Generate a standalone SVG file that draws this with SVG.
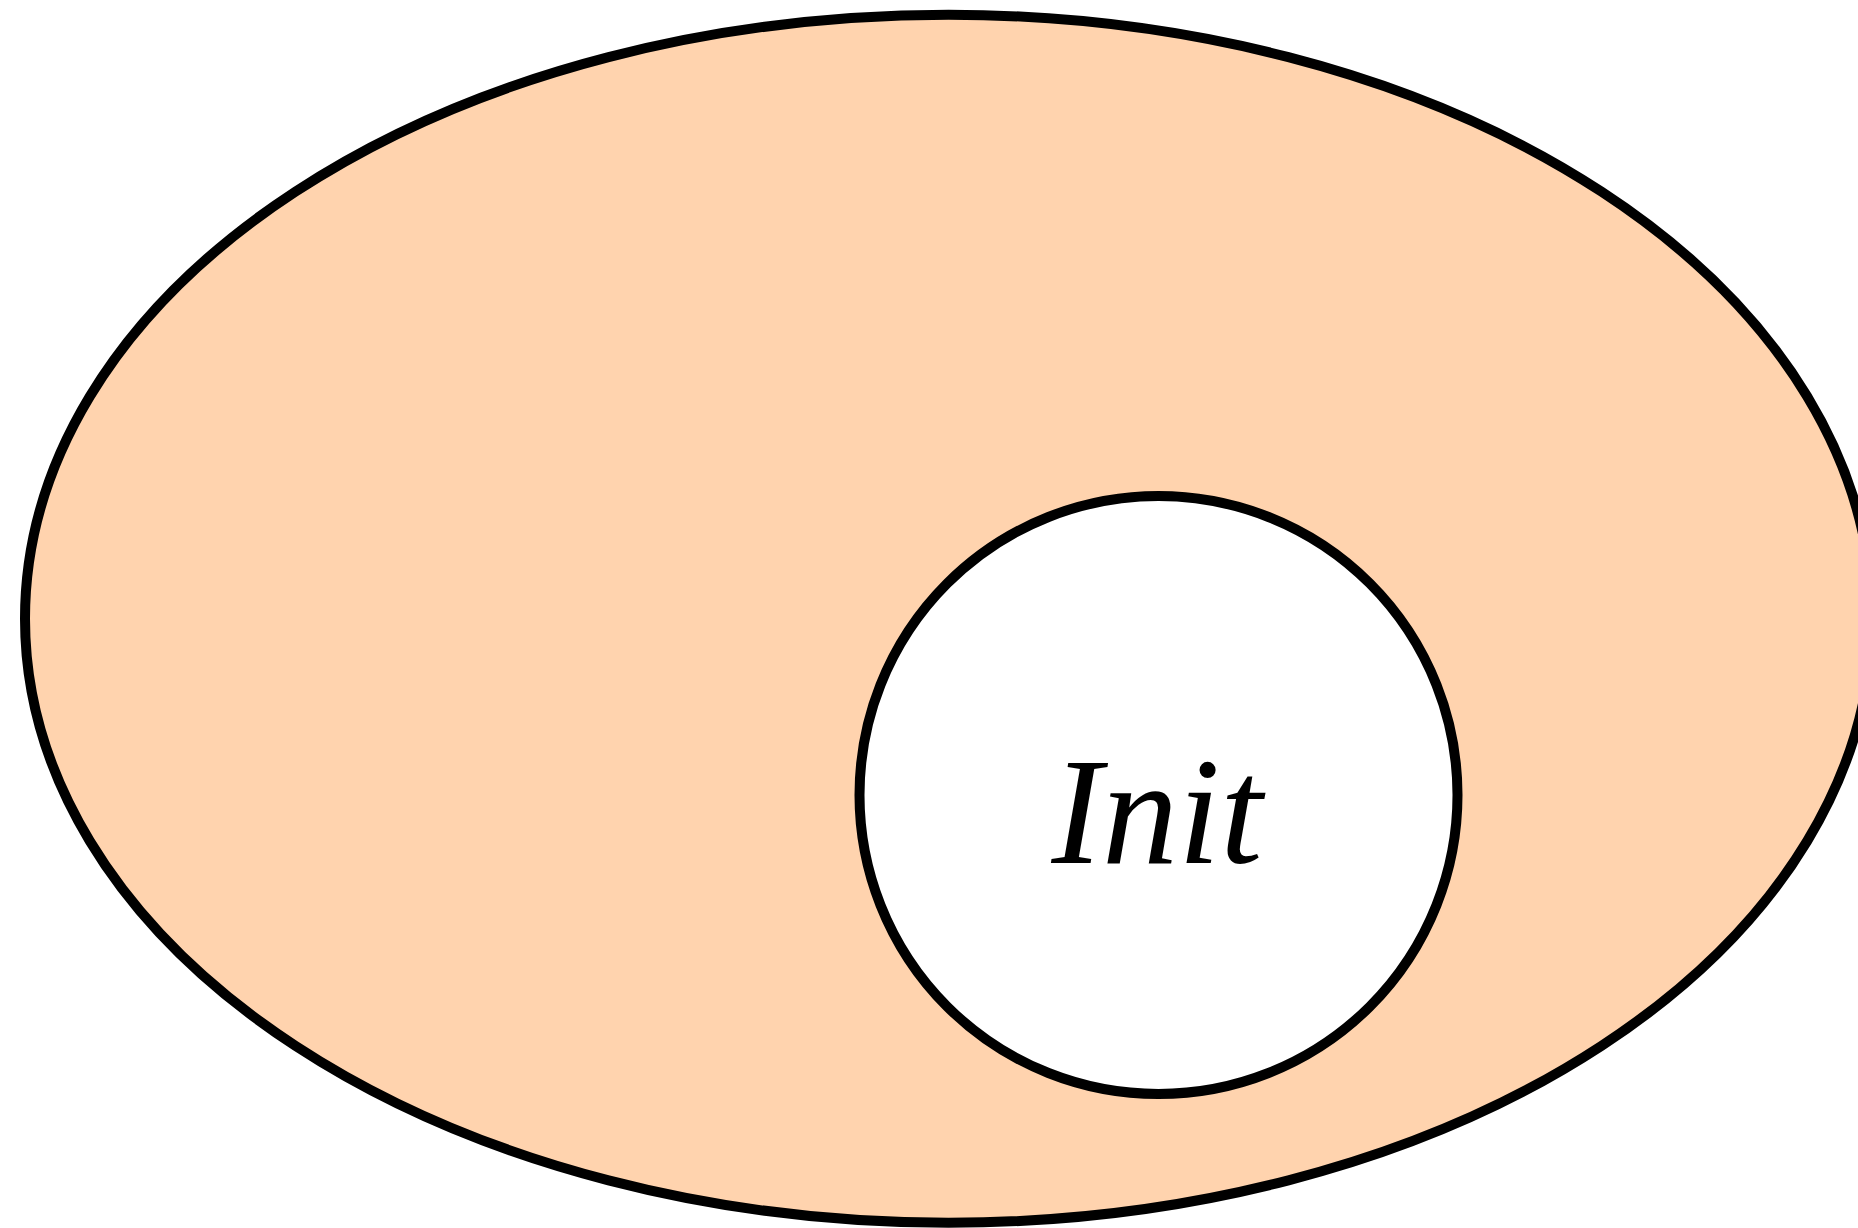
<svg xmlns="http://www.w3.org/2000/svg" width="1858" height="1228" viewBox="0 0 1858 1228">
<style>
.shape{stroke:#000;stroke-width:10}
.label{font-family:"Liberation Serif","Times New Roman",serif;font-style:italic;font-size:152px;fill:#000}
</style>
<rect width="1858" height="1228" fill="#fff"/>
<g id="outer">
<ellipse class="shape" cx="948.5" cy="618.75" rx="923.5" ry="604" fill="#FFD3AE"/>
</g>
<g id="init">
<circle class="shape" cx="1158.5" cy="795" r="299" fill="#fff"/>
<text class="label" x="1157" y="863" text-anchor="middle">Init</text>
</g>
<g id="connectors"></g>
</svg>
